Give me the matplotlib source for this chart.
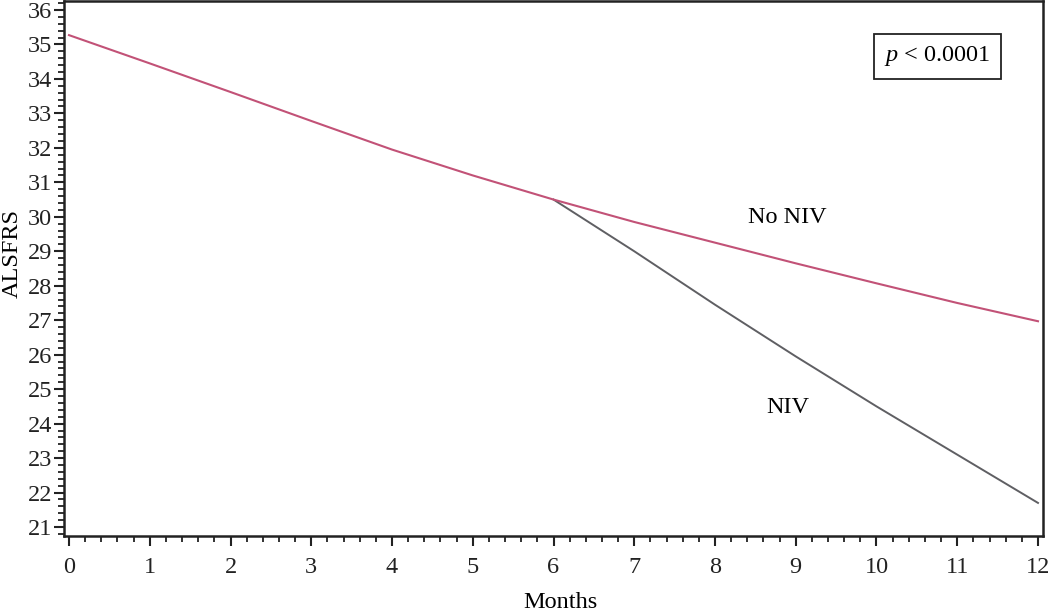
import matplotlib
matplotlib.use("Agg")
import matplotlib.pyplot as plt
from matplotlib.ticker import AutoMinorLocator

months_no_niv = [0, 1, 2, 3, 4, 5, 6, 7, 8, 9, 10, 11, 12]
alsfrs_no_niv = [35.27, 34.45, 33.62, 32.78, 31.95, 31.2, 30.5, 29.85, 29.25, 28.65, 28.07, 27.5, 26.97]
months_niv = [6, 7, 8, 9, 10, 11, 12]
alsfrs_niv = [30.5, 29.0, 27.45, 25.95, 24.5, 23.1, 21.7]
x_ticks = list(range(0, 13))
y_ticks = list(range(21, 37))

plt.rcParams['font.family'] = ['Liberation Serif', 'DejaVu Serif']
plt.rcParams['mathtext.fontset'] = 'custom'
plt.rcParams['mathtext.it'] = 'Liberation Serif:italic'
plt.rcParams['mathtext.rm'] = 'Liberation Serif'

FS = 17.5

fig = plt.figure(figsize=(10.5, 6.15), dpi=100)
ax = fig.add_axes([64/1050, 1-536/615, (1043-64)/1050, (536-1)/615])

ax.plot(months_niv, alsfrs_niv, color='#5f5f63', lw=1.4, zorder=2)
ax.plot(months_no_niv, alsfrs_no_niv, color='#c25277', lw=1.5, zorder=3)

ax.set_xlim(-0.062, 12.062)
ax.set_ylim(20.74, 36.26)
ax.set_xticks(x_ticks)
ax.set_yticks(y_ticks)
ax.xaxis.set_minor_locator(AutoMinorLocator(5))
ax.yaxis.set_minor_locator(AutoMinorLocator(5))
ax.tick_params(axis='both', which='major', direction='out', length=7, width=1.5,
               labelsize=FS, colors='#222222', pad=1.5)
ax.tick_params(axis='both', which='minor', direction='out', length=4, width=1.3, colors='#222222')
ax.tick_params(axis='x', which='major', pad=8)
for s in ax.spines.values():
    s.set_linewidth(1.8)
    s.set_color('#222222')

ax.set_xlabel('Months', fontsize=FS)
ax.set_ylabel('ALSFRS', fontsize=FS)
ax.xaxis.set_label_coords((560-64)/979, (536-603)/535)
ax.yaxis.set_label_coords((12-64)/979, (536-253)/535)
ax.xaxis.label.set_va('center')
ax.yaxis.label.set_va('center')

ax.text(8.90, 29.99, 'No NIV', fontsize=FS, ha='center', va='center')
ax.text(8.90, 24.48, 'NIV', fontsize=FS, ha='center', va='center')
ax.text(10.75, 34.65, r'$p$ < 0.0001', fontsize=FS, ha='center', va='center',
        bbox=dict(boxstyle='square,pad=0.42', fc='white', ec='#222222', lw=1.3))

fig.savefig('out.png', dpi=100)
